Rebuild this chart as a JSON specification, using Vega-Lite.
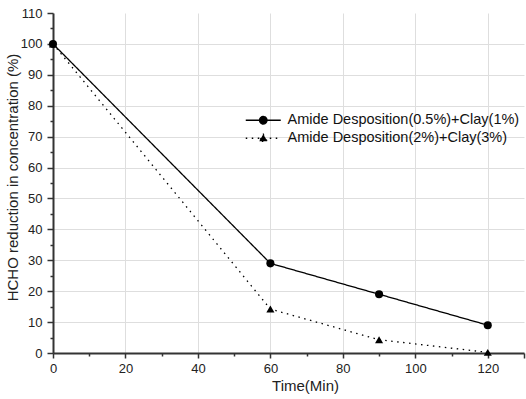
{
  "$schema": "https://vega.github.io/schema/vega-lite/v6.json",
  "width": 471,
  "height": 340,
  "autosize": {"type": "none"},
  "padding": {"left": 53, "top": 13, "right": 2, "bottom": 46},
  "background": "white",
  "config": {
    "view": {"stroke": null},
    "font": "Arial",
    "axis": {
      "labelFont": "Arial",
      "titleFont": "Arial",
      "labelFontSize": 13,
      "titleFontSize": 15,
      "titleFontWeight": "normal",
      "labelColor": "#222",
      "titleColor": "#222",
      "domainColor": "#333",
      "domainWidth": 2,
      "tickColor": "#333",
      "tickWidth": 1.5,
      "gridColor": "#dedede",
      "gridWidth": 1,
      "labelOverlap": false,
      "labelFlush": false
    }
  },
  "data": {
    "values": [
      {"time": 0, "value": 100, "series": "Amide Desposition(0.5%)+Clay(1%)"},
      {"time": 60, "value": 29, "series": "Amide Desposition(0.5%)+Clay(1%)"},
      {"time": 90, "value": 19, "series": "Amide Desposition(0.5%)+Clay(1%)"},
      {"time": 120, "value": 9, "series": "Amide Desposition(0.5%)+Clay(1%)"},
      {"time": 0, "value": 100, "series": "Amide Desposition(2%)+Clay(3%)"},
      {"time": 60, "value": 14.2, "series": "Amide Desposition(2%)+Clay(3%)"},
      {"time": 90, "value": 4.3, "series": "Amide Desposition(2%)+Clay(3%)"},
      {"time": 120, "value": 0.2, "series": "Amide Desposition(2%)+Clay(3%)"}
    ]
  },
  "encoding": {
    "x": {
      "field": "time",
      "type": "quantitative",
      "scale": {"domain": [0, 130], "nice": false, "zero": false},
      "axis": {
        "title": "Time(Min)",
        "values": [0, 10, 20, 30, 40, 50, 60, 70, 80, 90, 100, 110, 120, 130],
        "labelExpr": "datum.value % 20 === 0 && datum.value <= 120 ? datum.label : ''",
        "tickSize": {"condition": {"test": "datum.value % 20 === 0 || datum.value === 130", "value": 5}, "value": 3},
        "gridOpacity": {"condition": {"test": "datum.value % 20 === 0 && datum.value > 0 && datum.value <= 120", "value": 1}, "value": 0},
        "labelPadding": 4,
        "titlePadding": 3,
        "titleX": 252
      }
    },
    "y": {
      "field": "value",
      "type": "quantitative",
      "scale": {"domain": [0, 110], "nice": false},
      "axis": {
        "title": "HCHO  reduction in concentration (%)",
        "values": [0, 5, 10, 15, 20, 25, 30, 35, 40, 45, 50, 55, 60, 65, 70, 75, 80, 85, 90, 95, 100, 105, 110],
        "labelExpr": "datum.value % 10 === 0 ? datum.label : ''",
        "tickSize": {"condition": {"test": "datum.value % 10 === 0", "value": 6}, "value": 3},
        "gridOpacity": {"condition": {"test": "datum.value % 10 === 0 && datum.value > 0 && datum.value < 110", "value": 1}, "value": 0},
        "labelPadding": 5,
        "titlePadding": 0,
        "titleY": 164
      }
    }
  },
  "layer": [
    {
      "mark": {"type": "line", "color": "black", "strokeWidth": 1.3},
      "encoding": {
        "strokeDash": {
          "field": "series",
          "type": "nominal",
          "scale": {
            "domain": ["Amide Desposition(0.5%)+Clay(1%)", "Amide Desposition(2%)+Clay(3%)"],
            "range": [[1, 0], [1.5, 4.5]]
          },
          "legend": {
            "title": null,
            "orient": "none",
            "legendX": 203,
            "legendY": 100,
            "labelFont": "Arial",
            "labelFontSize": 14.5,
            "labelColor": "#111",
            "symbolSize": 100,
            "labelOffset": 17,
            "rowPadding": 3,
            "labelLimit": 400,
            "symbolType": {"expr": "datum.value === 'Amide Desposition(0.5%)+Clay(1%)' ? 'M-3.5,0H3.5M0.75,0A0.75,0.75,0,1,1,-0.75,0A0.75,0.75,0,1,1,0.75,0Z' : 'M-3.5,0H3.5M0,-0.8L0.8,0.6L-0.8,0.6Z'"},
            "symbolFillColor": "black",
            "symbolStrokeColor": "black",
            "symbolStrokeWidth": 1.3,
            "symbolOpacity": 1
          }
        }
      }
    },
    {
      "transform": [{"filter": "datum.series === 'Amide Desposition(0.5%)+Clay(1%)'"}],
      "mark": {"type": "point", "shape": "circle", "filled": true, "color": "black", "opacity": 1, "size": 65}
    },
    {
      "transform": [{"filter": "datum.series === 'Amide Desposition(2%)+Clay(3%)'"}],
      "mark": {"type": "point", "shape": "triangle-up", "filled": true, "color": "black", "opacity": 1, "size": 65}
    }
  ]
}
